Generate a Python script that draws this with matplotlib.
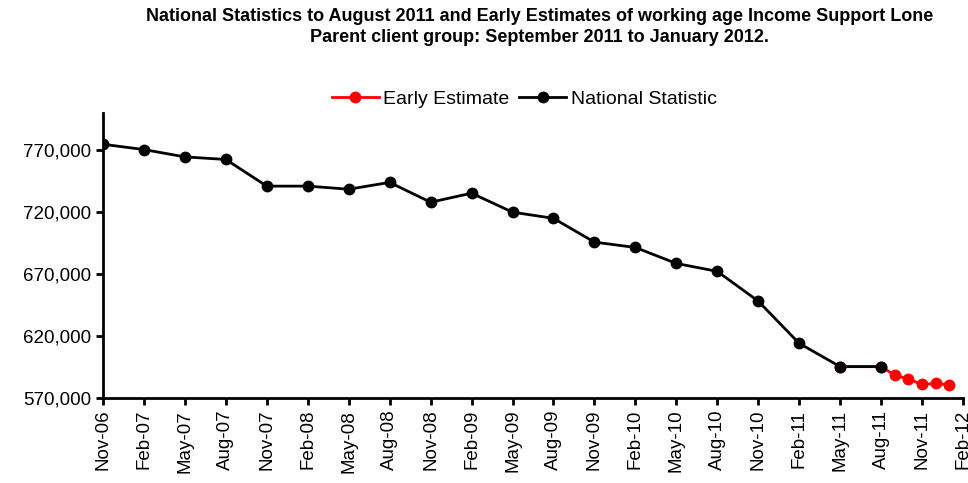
import matplotlib.pyplot as plt
from matplotlib.ticker import FuncFormatter

plt.rcParams['font.family'] = ['Liberation Sans', 'DejaVu Sans']

# months counted from Nov-06
tick_labels = ['Nov-06', 'Feb-07', 'May-07', 'Aug-07', 'Nov-07', 'Feb-08', 'May-08',
               'Aug-08', 'Nov-08', 'Feb-09', 'May-09', 'Aug-09', 'Nov-09', 'Feb-10',
               'May-10', 'Aug-10', 'Nov-10', 'Feb-11', 'May-11', 'Aug-11', 'Nov-11',
               'Feb-12']

national_months = list(range(0, 58, 3))
national_values = [774800, 770500, 764600, 762500, 741000, 741000, 738500, 744000,
                   728000, 735300, 720000, 715000, 695800, 691500, 678600, 672200,
                   648200, 614100, 595300, 595300]

early_months = [54, 57, 58, 59, 60, 61, 62]
early_values = [595300, 595300, 588500, 585300, 581000, 581700, 580600]

fig = plt.figure(figsize=(9.68, 4.83), dpi=100)
ax = fig.add_axes([0.1064, 0.176, 0.8884, 0.590])

ax.plot(early_months, early_values, color='#ff0000', lw=2, marker='o', ms=7.5,
        label='Early Estimate', zorder=2)
ax.plot(national_months, national_values, color='black', lw=2, marker='o', ms=7.5,
        label='National Statistic', zorder=3)

ax.set_xlim(0, 63)
ax.set_ylim(570000, 800000)
ax.set_xticks(range(0, 64, 3))
ax.set_xticklabels(tick_labels, rotation=90, fontsize=13.5)
ax.set_yticks(range(570000, 770001, 50000))
ax.yaxis.set_major_formatter(FuncFormatter(lambda v, p: f'{int(v):,}'))
ax.tick_params(axis='y', labelsize=13.5)
ax.tick_params(direction='out', length=5, width=2)

for side in ('top', 'right'):
    ax.spines[side].set_visible(False)
for side in ('left', 'bottom'):
    ax.spines[side].set_linewidth(2)

ax.legend(loc='center', bbox_to_anchor=(0.49, 1.049), ncol=2, frameon=False,
          fontsize=14, handlelength=2.4, columnspacing=0.5, handletextpad=0.25,
          borderpad=0, borderaxespad=0)

fig.text(0.557, 0.944, 'National Statistics to August 2011 and Early Estimates of working age Income Support Lone\n'
         'Parent client group: September 2011 to January 2012.',
         ha='center', va='center', fontsize=13, fontweight='bold', linespacing=1.28)

fig.savefig('out.png', dpi=100)
